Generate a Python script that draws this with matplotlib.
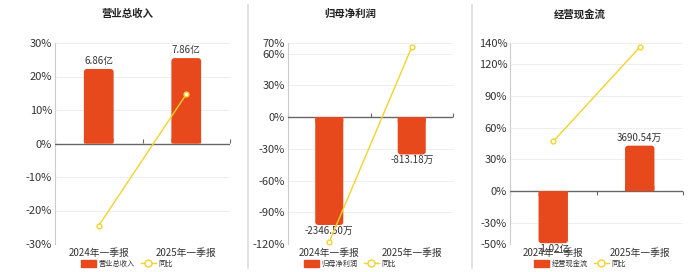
import numpy as np
import matplotlib.pyplot as plt
from matplotlib.patches import FancyBboxPatch

plt.rcParams['font.family'] = ['Noto Sans CJK SC', 'DejaVu Sans']
plt.rcParams['axes.unicode_minus'] = False

categories = ['2024年一季报', '2025年一季报']
titles = ['营业总收入', '归母净利润', '经营现金流']
# bar values (万元)
bar_values = [[68600, 78600], [-2346.50, -813.18], [-10200, 3690.54]]
bar_labels = [['6.86亿', '7.86亿'], ['-2346.50万', '-813.18万'], ['-1.02亿', '3690.54万']]
yoy = [[-24.5, 14.7], [-118.0, 66.0], [47.0, 136.0]]
pct_ticks = [[-30, -20, -10, 0, 10, 20, 30],
             [-120, -90, -60, -30, 0, 30, 60, 70],
             [-50, -30, 0, 30, 60, 90, 120, 140]]
pct_lims = [(-30, 30), (-120, 70), (-50, 140)]
bar_lims = [(-92500, 92500), (-2760, 1610), (-4290, 12020)]

BAR = '#E8491C'
LINE = '#F5D327'
W, H = 700, 272
boxes = [(55, 230), (288, 453), (510, 683)]
title_x = [127, 350, 580]
top, bottom = 43, 244

fig = plt.figure(figsize=(7, 2.72), dpi=100)

for i in range(3):
    x0, x1 = boxes[i]
    rect = [x0 / W, 1 - bottom / H, (x1 - x0) / W, (bottom - top) / H]
    ax = fig.add_axes(rect)
    x = np.arange(len(categories))
    ax.set_xlim(-0.5, 1.5)
    ax.set_ylim(*pct_lims[i])
    ax.set_yticks(pct_ticks[i])
    ax.set_yticklabels([f'{t}%' for t in pct_ticks[i]])
    ax.set_xticks(x)
    ax.set_xticklabels(categories, fontsize=7, color='#333333')
    ax.tick_params(axis='x', length=0, pad=2.5)
    ax.tick_params(axis='y', length=0, labelsize=8, labelcolor='#333333', pad=2)
    ax.grid(axis='y', color='#eeeeee', linewidth=0.7)
    for s in ['top', 'right', 'bottom']:
        ax.spines[s].set_visible(False)
    ax.spines['left'].set_color('#cccccc')
    ax.spines['left'].set_linewidth(0.8)

    # zero axis line with category boundary ticks
    ax.axhline(0, color='#666666', linewidth=1.0, zorder=3)
    plo, phi = pct_lims[i]
    zero_frac = (0 - plo) / (phi - plo)
    sec = ax.secondary_xaxis(zero_frac)
    sec.set_xticks([-0.5, 0.5, 1.5])
    sec.set_xticklabels([])
    sec.tick_params(axis='x', length=3, color='#666666', direction='out', width=0.8)
    for s in sec.spines.values():
        s.set_visible(False)

    # bars on hidden axis sharing the zero line
    axb = ax.twinx()
    lo, hi = bar_lims[i]
    axb.set_ylim(lo, hi)
    axb.set_yticks([])
    for s in axb.spines.values():
        s.set_visible(False)
    vals = bar_values[i]
    bw = 0.34
    xu_per_px = 2.0 / (x1 - x0)
    yu_per_px = (hi - lo) / (bottom - top)
    r = 3 * xu_per_px
    aspect = yu_per_px / xu_per_px
    for xi, v, lab in zip(x, vals, bar_labels[i]):
        vv = min(max(v, lo * 0.985), hi * 0.985)
        y0, h = (0, vv) if vv >= 0 else (vv, -vv)
        axb.add_patch(FancyBboxPatch((xi - bw / 2, y0), bw, h,
                                     boxstyle=f'round,pad=0,rounding_size={r}',
                                     mutation_aspect=aspect, fc=BAR, ec='none', zorder=2))
        # square off the corners at the zero line
        sq = 5 * yu_per_px * (1 if vv >= 0 else -1)
        axb.bar(xi, sq, width=bw, color=BAR, zorder=2, lw=0, snap=False)
        if v >= 0:
            axb.annotate(lab, (xi, vv), xytext=(0, 2), textcoords='offset points',
                         ha='center', va='bottom', fontsize=7, color='#333333')
        else:
            axb.annotate(lab, (xi, vv), xytext=(0, -0.5), textcoords='offset points',
                         ha='center', va='top', fontsize=7, color='#333333')
    axb.set_ylim(lo, hi)

    # yoy line on top
    axl = ax.twinx()
    axl.set_ylim(*pct_lims[i])
    axl.set_yticks([])
    for s in axl.spines.values():
        s.set_visible(False)
    axl.plot(x, yoy[i], color=LINE, linewidth=1.0, marker='o', markersize=3.5,
             markerfacecolor='white', markeredgecolor=LINE, markeredgewidth=1.0,
             clip_on=False)

    fig.text(title_x[i] / W, 1 - 14 / H, titles[i], ha='center', va='center',
             fontsize=7.5, fontweight='bold', color='#222222')

    # legend
    h1 = plt.Rectangle((0, 0), 1, 1, color=BAR)
    h2, = ax.plot([], [], color=LINE, marker='o', markersize=5, markerfacecolor='white',
                  markeredgecolor=LINE, linewidth=1.0)
    ax.legend([h1, h2], [titles[i], '同比'], loc='center', ncol=2,
              bbox_to_anchor=(title_x[i] / W, 1 - 264 / H), bbox_transform=fig.transFigure,
              frameon=False, fontsize=5.2, handlelength=2.1, handleheight=1.0,
              columnspacing=0.8, handletextpad=0.4, borderpad=0, labelcolor='#333333')

# separators
for sx in [248, 472]:
    fig.add_artist(plt.Line2D([sx / W, sx / W], [1 - 268 / H, 1 - 5 / H],
                              color='#dddddd', linewidth=1.2))

fig.savefig('out.png', dpi=100)
